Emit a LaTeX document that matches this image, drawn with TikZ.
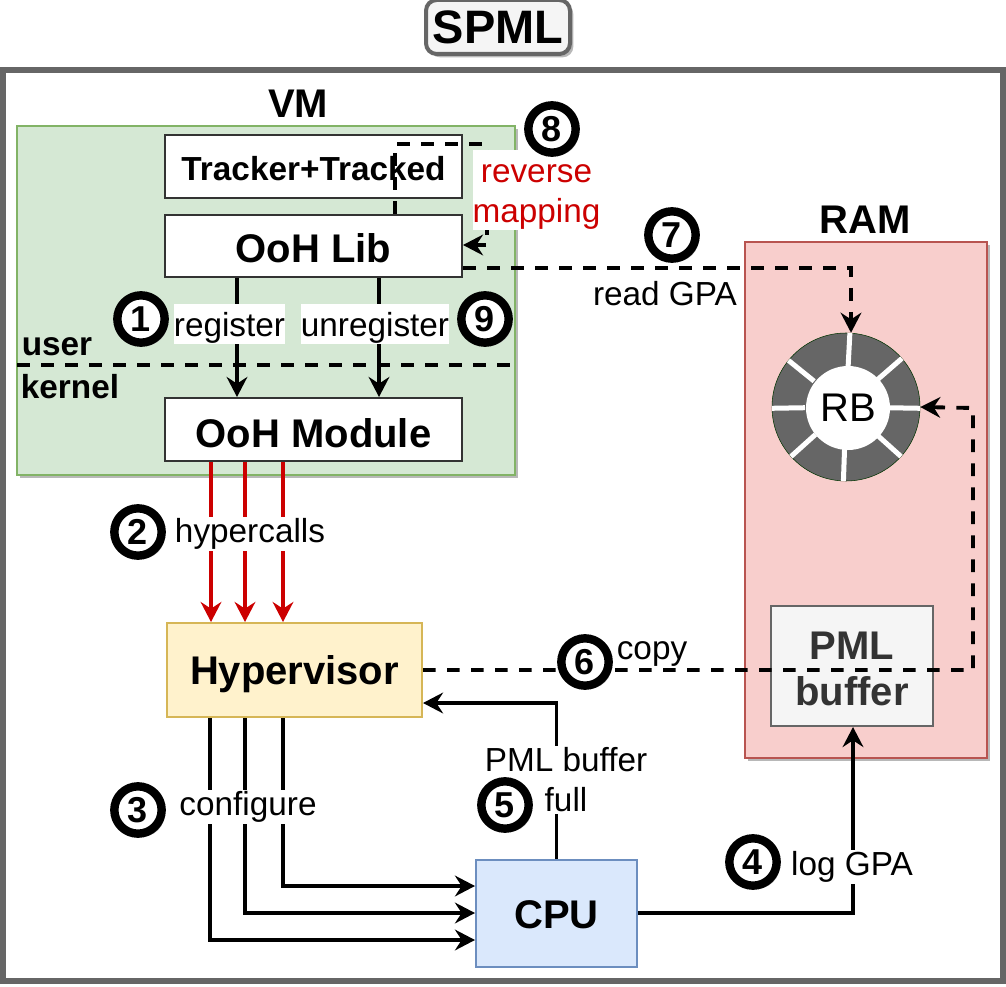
\documentclass[tikz,border=0pt]{standalone}
\usepackage{fontspec}
\setmainfont{Liberation Sans}
\usetikzlibrary{arrows.meta,shadows}
\def\px{0.75pt}
\newcommand\dnby[2]{\raisebox{-#1pt}[\height][\depth]{#2}}
\definecolor{vmfill}{HTML}{D5E8D4}\definecolor{vmline}{HTML}{82B366}
\definecolor{hvfill}{HTML}{FFF2CC}\definecolor{hvline}{HTML}{D6B656}
\definecolor{cpufill}{HTML}{DAE8FC}\definecolor{cpuline}{HTML}{6C8EBF}
\definecolor{ramfill}{HTML}{F8CECC}\definecolor{ramline}{HTML}{B85450}
\definecolor{pmlfill}{HTML}{F5F5F5}\definecolor{grayline}{HTML}{666666}
\definecolor{redline}{HTML}{CC0000}\definecolor{ringfill}{HTML}{666666}
\definecolor{pmltext}{HTML}{333333}
\tikzset{
  shad/.style={general shadow={shadow xshift=2.5pt,shadow yshift=-2.5pt,fill=black!28}},
  box/.style={draw,rectangle,inner sep=0pt,align=center},
  whitebox/.style={box,fill=white,draw=black!80,line width=1.5pt},
  big/.style={font=\fontsize{30}{36}\selectfont\bfseries},
  small/.style={font=\fontsize{25}{30}\selectfont},
  smallb/.style={font=\fontsize{25}{30}\selectfont\bfseries},
  lbl/.style={small,fill=white,inner sep=1pt,align=center},
  bare/.style={inner sep=0pt},
  conn/.style={line width=2.9pt,-{Stealth[length=15pt,width=15.5pt,inset=5pt]},line join=miter},
  dconn/.style={conn,dash pattern=on 9.5pt off 8.5pt},
  numc/.style={circle,draw=black,fill=white,line width=6.3pt,minimum size=35.5pt,inner sep=0pt,
    font=\fontsize{27}{30}\selectfont\bfseries,shad},
}
\begin{document}
\begin{tikzpicture}[x=0.75pt,y=-0.75pt]
\useasboundingbox (0,0) rectangle (1006,987);
% coordinates of vertical runs
\coordinate (xa) at (237,0); \coordinate (xb) at (379,0);
\coordinate (ra) at (211,0); \coordinate (rb) at (245,0); \coordinate (rc) at (283,0);
\coordinate (ca) at (210,0); \coordinate (cb) at (245,0); \coordinate (cc) at (283,0);
\coordinate (ya) at (0,886); \coordinate (yb) at (0,913); \coordinate (yc) at (0,940);
\coordinate (xr) at (973,0); \coordinate (xg) at (851,0);
\coordinate (yg) at (0,268); \coordinate (yh) at (0,670); \coordinate (yl) at (0,703);
\coordinate (xs) at (395,0); \coordinate (ys) at (0,144); \coordinate (xe) at (487,0); \coordinate (ye) at (0,245);
\coordinate (xp) at (853,0);
% containers
\node[box,draw=grayline,fill=white,line width=3.8pt,minimum width=1000*\px,minimum height=911*\px,shad] (outer) at (503,525.5) {};
\node[box,draw=vmline,fill=vmfill,line width=1pt,minimum width=498*\px,minimum height=349*\px,shad] (vm) at (266,300.5) {};
\node[box,draw=ramline,fill=ramfill,line width=1pt,minimum width=242*\px,minimum height=516*\px,shad] (ram) at (866,500) {};
\node[box,draw=grayline,fill=pmlfill,rounded corners=8pt,line width=3pt,minimum width=144*\px,minimum height=54*\px,shad,
  font=\fontsize{35.2}{40}\selectfont\bfseries] (title) at (498,27) {SPML};
\node[bare,big] (vmt) at (298,104) {VM};
\node[bare,big] (ramt) at (865,220) {RAM};
% boxes
\node[whitebox,minimum width=297*\px,minimum height=63*\px,font=\fontsize{25}{30}\selectfont\bfseries] (track) at (313.5,166.5) {\dnby{1.2}{Tracker+Tracked}};
\node[whitebox,minimum width=297*\px,minimum height=62*\px,big] (lib) at (313.5,246) {\dnby{1.5}{OoH Lib}};
\node[whitebox,minimum width=297*\px,minimum height=63*\px,big] (mod) at (313.5,429.5) {\dnby{3}{OoH Module}};
\node[box,draw=hvline,fill=hvfill,line width=1.5pt,minimum width=255*\px,minimum height=94*\px,big] (hyp) at (294.5,670) {\dnby{3}{Hypervisor}};
\node[box,draw=cpuline,fill=cpufill,line width=1.5pt,minimum width=161*\px,minimum height=107*\px,big] (cpu) at (556.5,913.5) {\dnby{0.7}{CPU}};
\node[box,draw=grayline,fill=pmlfill,text=pmltext,line width=1.5pt,minimum width=162*\px,minimum height=120*\px,font=\fontsize{30}{34.5}\selectfont\bfseries] (pml) at (852,666) {\dnby{2.2}{PML}\\\dnby{2.2}{buffer}};
% ring buffer
\node[circle,draw=black!50!green!40!black,line width=.4pt,fill=ringfill,minimum size=148*\px,inner sep=0pt] (ring) at (846,407) {};
\foreach \a in {-87,-41,1,42,92,138,179,219}
  \draw[white,line width=3.75pt] (ring.center) ++(\a:41) -- ++(\a:33);
\node[circle,fill=white,minimum size=84*\px,inner sep=0pt,font=\fontsize{30}{36}\selectfont] (rbn) at (848,408) {RB};
% user / kernel
\coordinate (sepl) at (17,365); \coordinate (sepr) at (510,365);
\draw[line width=2.9pt,dash pattern=on 9.5pt off 8.5pt] (sepl) -- (sepr);
\node[bare,smallb] (usr) at (57,347) {user};
\node[bare,smallb] (krn) at (70,387) {kernel};
% connectors
\draw[conn] (xa |- lib.south) -- (xa |- mod.north);
\draw[conn] (xb |- lib.south) -- (xb |- mod.north);
\foreach \c in {ra,rb,rc}
  \draw[conn,draw=redline] (\c |- mod.south) -- (\c |- hyp.north);
\draw[conn] (cc |- hyp.south) -- (cc |- ya) -- (cpu.west |- ya);
\draw[conn] (cb |- hyp.south) -- (cb |- yb) -- (cpu.west |- yb);
\draw[conn] (ca |- hyp.south) -- (ca |- yc) -- (cpu.west |- yc);
\draw[conn] (cpu.north) -- (cpu.north |- yl) -- (hyp.east |- yl);
\draw[conn] (cpu.east |- yb) -- (xp |- yb) -- (xp |- pml.south);
\draw[dconn] (hyp.east |- yh) -- (xr |- yh) -- (xr |- rbn) -- (ring.east);
\draw[dconn] (lib.east |- yg) -- (xg |- yg) -- (xg |- ring.north);
\draw[dconn] (xs |- lib.north) -- (xs |- ys) -- (xe |- ys) -- (xe |- ye) -- (lib.east |- ye);
% labels
\node[lbl,inner sep=0pt,minimum width=111*\px,minimum height=40*\px] (lreg) at (229.5,324) {\dnby{3}{register}};
\node[lbl,inner sep=0pt,minimum width=148*\px,minimum height=40*\px] (lunr) at (375,324) {\dnby{3}{unregister}};
\node[lbl] (lhyp) at (250,534) {hypercalls};
\node[lbl] (lcfg) at (248,807) {configure};
\node[lbl] (lread) at (665,294) {read GPA};
\node[bare,small] (lcopy) at (652,654) {copy};
\node[lbl] (lfull) at (566,780) {PML buffer\\full};
\node[lbl] (llog) at (852,867) {log GPA};
\node[small,fill=white,text=redline,inner sep=0pt,minimum width=127*\px,minimum height=80*\px,align=center] (lrev) at (536.5,190) {\dnby{5}{reverse}\\\dnby{5}{mapping}};
% numbers
\node[numc] (n1) at (141,319) {1};
\node[numc] (n2) at (138,532) {2};
\node[numc] (n3) at (138,810) {3};
\node[numc] (n4) at (753,862) {4};
\node[numc] (n5) at (505,805) {5};
\node[numc] (n6) at (585,662) {6};
\node[numc] (n7) at (672,235) {7};
\node[numc] (n8) at (552,129) {8};
\node[numc] (n9) at (485,319) {9};
\end{tikzpicture}
\end{document}
